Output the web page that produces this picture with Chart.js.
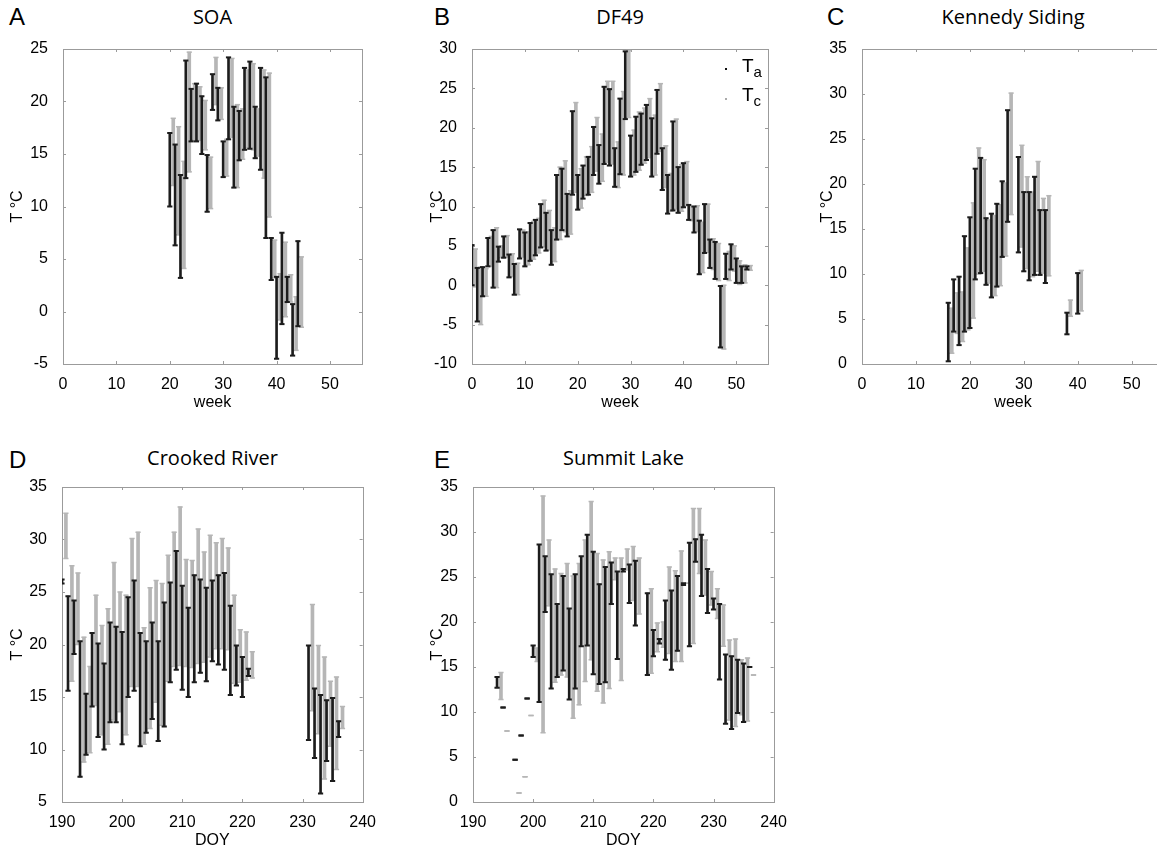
<!DOCTYPE html>
<html>
<head>
<meta charset="utf-8">
<script src="https://cdn.jsdelivr.net/npm/chart.js@4.4.1/dist/chart.umd.min.js"></script>
<style>
  body { margin: 0; width: 1157px; height: 853px; overflow: hidden; background: #fff; position: relative;
         font-family: "Liberation Sans", Arial, sans-serif; }
  canvas { position: absolute; }
  .lbl { position: absolute; font-size: 24px; line-height: 24px; color: #000; }
  .ttl { position: absolute; font-family: "Open Sans", sans-serif; font-size: 20px; line-height: 28px;
         text-align: center; color: #000; }
  .leg { position: absolute; font-size: 19px; line-height: 22px; color: #000; }
  .leg sub { font-size: 15px; vertical-align: -5px; line-height: 0; }
  .dot { position: absolute; width: 2px; height: 2px; }
</style>
</head>
<body>
<div class="lbl" style="left:9px;top:5px">A</div>
<div class="lbl" style="left:434px;top:5px">B</div>
<div class="lbl" style="left:827px;top:5px">C</div>
<div class="lbl" style="left:9px;top:448px">D</div>
<div class="lbl" style="left:434px;top:448px">E</div>

<div class="ttl" style="left:63px;width:299px;top:3px">SOA</div>
<div class="ttl" style="left:472px;width:296px;top:3px">DF49</div>
<div class="ttl" style="left:862px;width:302px;top:3px">Kennedy Siding</div>
<div class="ttl" style="left:62px;width:301px;top:444px">Crooked River</div>
<div class="ttl" style="left:473px;width:301px;top:444px">Summit Lake</div>

<canvas id="cA" style="left:0px;top:30px"></canvas>
<canvas id="cB" style="left:420px;top:30px"></canvas>
<canvas id="cC" style="left:810px;top:30px"></canvas>
<canvas id="cD" style="left:0px;top:468px"></canvas>
<canvas id="cE" style="left:420px;top:468px"></canvas>

<span class="dot" style="left:725px;top:68px;background:#111"></span>
<span class="dot" style="left:725px;top:98px;background:#aaa"></span>
<div class="leg" style="left:742px;top:55px">T<sub>a</sub></div>
<div class="leg" style="left:742px;top:84px">T<sub>c</sub></div>

<script>
// ---- A: SOA (weekly min/max)
const aWeek  = [20,21,22,23,24,25,26,27,28,29,30,31,32,33,34,35,36,37,38,39,40,41,42,43,44];
const aTaMin = [10.0,6.3,3.2,12.7,16.2,16.2,15.0,9.5,19.2,18.2,12.8,16.4,11.8,14.4,15.4,15.5,14.6,13.5,7.0,3.0,-4.5,-1.2,0.9,-4.2,-1.4];
const aTaMax = [17.0,15.9,13.0,23.9,21.2,21.7,20.5,14.9,22.6,21.3,16.2,24.2,19.5,19.1,23.2,23.8,19.5,23.2,22.3,7.0,3.3,7.5,3.3,0.7,6.7];
const aTcMin = [12.0,7.3,4.1,13.3,16.3,16.3,15.4,9.8,19.7,18.3,12.9,16.6,11.8,14.5,15.6,15.4,14.8,12.7,9.0,3.2,-0.8,-0.5,0.9,-3.7,-1.5];
const aTcMax = [18.4,17.6,14.3,24.7,21.7,21.4,20.1,14.7,24.2,21.3,16.4,24.1,19.7,19.3,23.0,23.6,19.3,23.0,22.7,6.8,3.6,6.6,3.5,1.4,5.2];

// ---- B: DF49
const bWeek  = [0,1,2,3,4,5,6,7,8,9,10,11,12,13,14,15,16,17,18,19,20,21,22,23,24,25,26,27,28,29,30,31,32,33,34,35,36,37,38,39,40,41,42,43,44,45,46,47,48,49,50,51,52];
const bTaMin = [0.0,-4.6,-1.4,2.4,-0.3,3.0,3.5,1.0,-1.2,3.4, 2.4,3.1,3.8,4.8,4.4,2.6,5.8,7.0,6.2,11.5, 9.6,11.0,11.5,14.0,12.9,15.4,15.2,12.5,14.1,21.1, 13.8,14.4,15.3,15.9,13.8,16.7,12.1,9.1,9.5,9.2, 9.9,8.3,6.7,1.4,4.1,2.2,0.8,-7.9,0.8,2.0, 0.3,0.3,2.0];
const bTaMax = [5.1,2.2,2.3,6.0,7.0,4.9,6.2,3.9,2.7,7.1, 6.7,7.9,8.3,10.3,9.2,7.0,14.0,14.8,11.6,22.1, 14.0,15.2,16.3,20.1,17.8,25.2,24.9,17.4,23.7,29.7, 19.0,21.4,21.8,22.9,21.2,24.8,17.4,14.0,20.8,15.0, 15.5,10.2,10.0,8.2,10.3,5.8,5.5,-0.1,4.0,5.2, 3.4,2.4,2.4];
const bTcMin = [-0.2,-5.0,-1.4,2.4,-0.3,3.5,3.6,1.1,-1.2,3.6, 2.6,3.3,4.1,4.9,4.5,3.0,5.8,6.8,6.5,11.8, 9.8,11.4,11.8,14.5,13.2,15.6,15.4,12.4,14.0,21.3, 14.0,14.6,15.5,16.2,14.0,17.0,12.4,9.4,9.7,9.4, 10.1,8.2,6.8,1.6,4.2,2.0,0.6,-8.1,0.6,1.8, 0.1,0.3,1.9];
const bTcMax = [4.6,2.3,2.1,6.2,7.3,5.0,6.3,4.0,2.8,7.0, 6.8,8.1,8.5,10.8,9.5,7.3,15.0,15.8,12.0,23.2, 14.8,16.3,17.6,21.3,19.2,25.9,25.9,18.2,24.6,29.8, 19.7,22.0,22.5,23.7,21.6,25.6,17.7,14.2,21.1,15.3, 15.7,10.0,10.1,8.0,10.3,5.9,5.3,0.0,4.3,5.0, 3.1,2.6,2.5];

// ---- C: Kennedy Siding
const cWeek  = [16,17,18,19,20,21,22,23,24,25,26,27,29,30,31,32,33,34,38,40];
const cTaMin = [0.3,3.6,2.1,3.6,4.0,9.4,10.1,8.8,7.4,8.6,11.9,15.8,12.4,10.3,9.3,9.9,9.9,9.0,3.3,5.6];
const cTaMax = [6.8,9.4,9.7,14.2,16.3,21.7,22.9,16.2,16.7,17.8,20.3,28.2,23.0,19.1,19.1,20.8,17.1,17.1,5.7,10.1];
const cTcMin = [1.2,3.4,2.5,3.8,5.1,10.0,10.3,9.0,7.6,8.7,12.0,16.6,13.0,10.6,9.7,10.3,10.1,9.8,5.3,5.9];
const cTcMax = [6.2,7.9,8.0,12.9,17.9,24.0,22.7,16.0,16.5,17.7,20.1,30.1,24.3,20.8,19.1,22.5,18.4,18.7,7.1,10.4];

// ---- D: Crooked River (day of year)
const dDoy   = [190,191,192,193,194,195,196,197,198,199,200,201,202,203,204,205,206,207,208,209,210,211,212,213,214,215,216,217,218,219,220,221,231,232,233,234,235,236];
const dTaMin = [25.8,15.6,19.1,7.4,9.5,14.1,11.2,10.0,12.6,12.6, 10.5,15.0,15.6,10.3,11.6,12.9,10.8,12.2,16.4,17.6, 15.7,15.0,16.4,17.3,16.5,18.4,18.1,17.6,15.2,16.1, 15.0,17.0, 10.9,9.2,5.8,8.9,7.0,11.2];
const dTaMax = [26.2,24.6,24.2,20.3,15.3,21.1,20.1,18.2,22.1,21.7, 21.2,24.5,26.1,21.1,20.3,22.1,20.3,24.0,25.9,28.9, 25.6,23.5,26.6,26.2,25.4,26.1,26.6,26.8,23.7,19.9, 18.8,17.7, 19.9,15.8,15.2,14.7,14.9,12.7];
const dTcMin = [28.2,16.5,20.0,8.8,9.7,14.2,11.4,10.5,12.8,13.6, 11.4,16.0,16.0,10.5,12.0,14.5,12.3,16.5,17.9,18.0, 17.9,17.8,18.2,18.3,18.8,19.6,19.6,19.5,16.3,16.4, 16.6,16.8, 13.7,11.5,7.2,10.3,8.1,12.0];
const dTcMax = [32.5,27.5,26.8,20.7,17.9,24.7,21.8,23.4,27.8,25.0, 24.7,30.1,30.7,21.6,25.4,26.1,25.8,28.5,30.7,33.1, 28.1,28.0,31.0,28.8,30.4,29.7,30.1,29.2,24.7,21.4, 21.2,19.3, 23.8,19.9,18.8,16.5,16.9,14.1];

// ---- E: Summit Lake
const eDoy   = [194,195,197,198,199,200,201,202,203,204,205,206,207,208,209,210,211,212,213,214,215,216,217,219,220,221,222,223,224,225,226,227,228,229,230,231,232,233,234,235,236];
const eTaMin = [12.7,10.5,4.7,7.4,11.5,16.1, 11.1,21.1,12.6,13.9,14.6,11.4,12.6,17.3,17.4,14.2,13.1,13.3,22.0,15.9,25.6,22.1,19.6, 14.1,16.2,17.6,15.8,14.7,16.8,24.1,17.3,26.7,22.9,21.0,21.4,13.6,8.7,8.1,9.9,8.9,15.0];
const eTaMax = [13.9,10.5,4.7,7.4,11.5,17.4, 28.6,27.3,25.3,22.0,25.1,21.5,25.3,27.3,29.7,27.8,24.2,26.1,26.6,25.6,25.9,26.4,26.8, 23.2,19.1,18.1,22.4,23.5,25.1,24.3,28.8,29.2,29.7,25.9,22.6,22.0,16.4,16.2,15.8,15.4,15.0];
const eTcMin = [11.4,7.9,1.0,2.8,9.6,15.6, 7.7,21.8,13.3,14.1,13.9,9.3,10.8,13.4,15.8,12.3,11.0,12.6,24.7,13.5,25.8,22.4,20.9, 14.3,16.7,17.2,16.5,15.6,15.6,24.3,17.6,25.4,23.0,21.9,20.4,17.3,9.1,8.4,9.7,9.0,14.1];
const eTcMax = [14.4,7.9,1.0,2.8,9.6,17.1, 34.0,29.1,25.9,25.4,26.5,25.1,26.5,29.1,33.4,27.6,26.9,27.8,27.1,27.1,28.1,28.4,27.1, 23.7,19.9,20.0,26.1,25.7,27.9,24.3,32.6,32.6,29.1,25.6,23.7,21.9,18.0,18.1,15.8,16.0,14.1];

// tick labels
const weekTicks = [0,10,20,30,40,50];
const doyTicks  = [190,200,210,220,230,240];
const aYTicks = [-5,0,5,10,15,20,25];
const bYTicks = [-10,-5,0,5,10,15,20,25,30];
const cYTicks = [0,5,10,15,20,25,30,35];
const dYTicks = [5,10,15,20,25,30,35];
const eYTicks = [0,5,10,15,20,25,30,35];

const BLACK = '#1c1c1c', GREY = '#b6b6b6', FRAME = '#9b9b9b';
const TC_SHIFT = 0.65;   // Tc drawn just right of Ta

Chart.defaults.font.family = '"Liberation Sans", Arial, sans-serif';
Chart.defaults.font.size = 16;
Chart.defaults.color = '#000';

// box + inward tick marks, like the matlab axes
const framePlugin = {
  id: 'frame',
  beforeDatasetsDraw(chart) {
    const { ctx, chartArea: a, scales: { x, y } } = chart;
    ctx.save();
    ctx.strokeStyle = FRAME;
    ctx.lineWidth = 1;
    ctx.strokeRect(Math.round(a.left) + .5, Math.round(a.top) + .5, Math.round(a.right - a.left), Math.round(a.bottom - a.top));
    ctx.beginPath();
    x.ticks.forEach(t => {
      const px = Math.round(x.getPixelForValue(t.value)) + .5;
      ctx.moveTo(px, a.bottom); ctx.lineTo(px, a.bottom - 3);
      ctx.moveTo(px, a.top); ctx.lineTo(px, a.top + 3);
    });
    y.ticks.forEach(t => {
      const py = Math.round(y.getPixelForValue(t.value)) + .5;
      ctx.moveTo(a.left, py); ctx.lineTo(a.left + 3, py);
      ctx.moveTo(a.right, py); ctx.lineTo(a.right - 3, py);
    });
    ctx.stroke();
    ctx.restore();
  }
};

const rangeBars = (xs, lo, hi, shift) => xs.map((v, i) => ({ x: v + shift, y: [lo[i], hi[i]] }));
const caps = (xs, lo, hi, shift) => xs.flatMap((v, i) => [{ x: v + shift, y: lo[i] }, { x: v + shift, y: hi[i] }]);

function panel(id, p, L) {
  const cv = document.getElementById(id);
  cv.width = L.w; cv.height = L.h;
  new Chart(cv, {
    type: 'bar',
    data: {
      datasets: [
        { type: 'scatter', data: caps(p.xs, p.taMin, p.taMax, 0), pointStyle: 'line', pointRadius: 2.6,
          pointBorderWidth: 2, pointBorderColor: BLACK, pointBackgroundColor: BLACK },
        { data: rangeBars(p.xs, p.taMin, p.taMax, 0), backgroundColor: BLACK, barThickness: 2, grouped: false },
        { type: 'scatter', data: caps(p.xs, p.tcMin, p.tcMax, TC_SHIFT), pointStyle: 'line', pointRadius: 2.6,
          pointBorderWidth: 1.5, pointBorderColor: GREY, pointBackgroundColor: GREY },
        { data: rangeBars(p.xs, p.tcMin, p.tcMax, TC_SHIFT), backgroundColor: GREY, barThickness: 3, grouped: false }
      ]
    },
    options: {
      responsive: false, animation: false, events: [],
      layout: { padding: { top: L.padTop, right: L.padRight, left: 0, bottom: 0 } },
      plugins: { legend: { display: false }, tooltip: { enabled: false } },
      scales: {
        x: {
          type: 'linear', min: p.xMin, max: p.xMax, offset: false,
          grid: { display: false }, border: { display: false },
          afterBuildTicks: s => { s.ticks = p.xTicks.map(v => ({ value: v })); },
          afterFit: s => { s.height = L.xAxisH; },
          ticks: { padding: 3, maxRotation: 0, autoSkip: false },
          title: { display: true, text: p.xTitle, padding: { top: 0, bottom: L.xTitlePad } }
        },
        y: {
          min: p.yMin, max: p.yMax,
          grid: { display: false }, border: { display: false },
          afterBuildTicks: s => { s.ticks = p.yTicks.map(v => ({ value: v })); },
          afterFit: s => { s.width = L.yAxisW; },
          ticks: { padding: 7 },
          title: { display: true, text: 'T °C', padding: { top: L.yTitlePad, bottom: 0 } }
        }
      }
    },
    plugins: [framePlugin]
  });
}

panel('cA', { xs: aWeek, taMin: aTaMin, taMax: aTaMax, tcMin: aTcMin, tcMax: aTcMax, xMin: 0, xMax: 56, xTicks: weekTicks,
              yMin: -5, yMax: 25, yTicks: aYTicks, xTitle: 'week' },
      { w: 378, h: 390, padTop: 19, padRight: 16, yAxisW: 63, xAxisH: 56, yTitlePad: 8.4, xTitlePad: 7.4 });
panel('cB', { xs: bWeek, taMin: bTaMin, taMax: bTaMax, tcMin: bTcMin, tcMax: bTcMax, xMin: 0, xMax: 56, xTicks: weekTicks,
              yMin: -10, yMax: 30, yTicks: bYTicks, xTitle: 'week' },
      { w: 364, h: 390, padTop: 19, padRight: 16, yAxisW: 52, xAxisH: 56, yTitlePad: 8, xTitlePad: 7.4 });
panel('cC', { xs: cWeek, taMin: cTaMin, taMax: cTaMax, tcMin: cTcMin, tcMax: cTcMax, xMin: 0, xMax: 56, xTicks: weekTicks,
              yMin: 0, yMax: 35, yTicks: cYTicks, xTitle: 'week' },
      { w: 370, h: 390, padTop: 19, padRight: 16, yAxisW: 52, xAxisH: 56, yTitlePad: 8, xTitlePad: 7.4 });
panel('cD', { xs: dDoy, taMin: dTaMin, taMax: dTaMax, tcMin: dTcMin, tcMax: dTcMax, xMin: 190, xMax: 240, xTicks: doyTicks,
              yMin: 5, yMax: 35, yTicks: dYTicks, xTitle: 'DOY' },
      { w: 379, h: 385, padTop: 19, padRight: 16, yAxisW: 62, xAxisH: 51, yTitlePad: 8.4, xTitlePad: 2.4 });
panel('cE', { xs: eDoy, taMin: eTaMin, taMax: eTaMax, tcMin: eTcMin, tcMax: eTcMax, xMin: 190, xMax: 240, xTicks: doyTicks,
              yMin: 0, yMax: 35, yTicks: eYTicks, xTitle: 'DOY' },
      { w: 370, h: 385, padTop: 19, padRight: 16, yAxisW: 53, xAxisH: 51, yTitlePad: 8, xTitlePad: 2.4 });
</script>
</body>
</html>
